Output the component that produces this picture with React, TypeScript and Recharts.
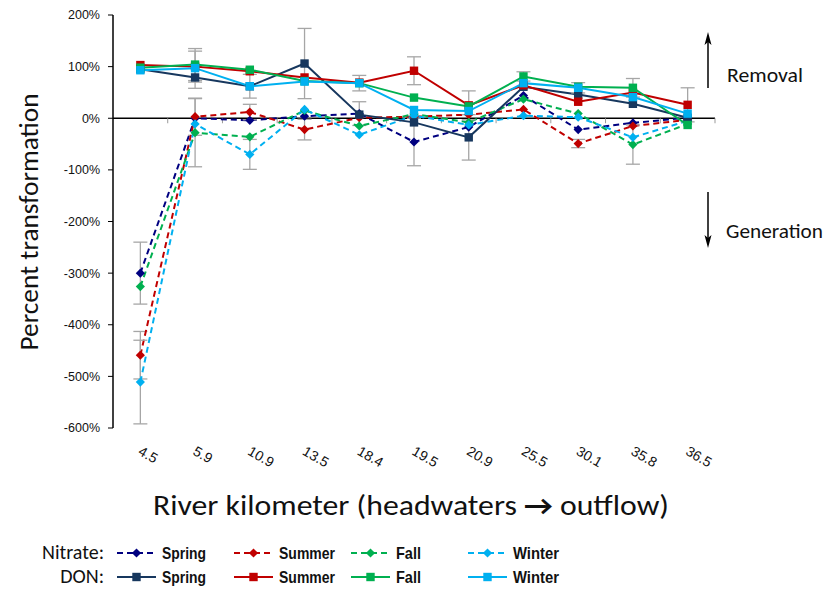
import React from 'react';
import { LineChart, Line, XAxis, YAxis, ReferenceLine, ErrorBar } from 'recharts';

const categories = ['4.5', '5.9', '10.9', '13.5', '18.4', '19.5', '20.9', '25.5', '30.1', '35.8', '36.5'];
const yTicks = [200, 100, 0, -100, -200, -300, -400, -500, -600];

const nitrateSpring = [-300, 0, -4, 4, 9, -46, -17, 44, -22, -9, 1];
const nitrateSummer = [-459, 3, 12, -22, 1, 3, 7, 17, -49, -15, -3];
const nitrateFall = [-326, -28, -36, 15, -15, 8, -8, 37, 9, -51, -11];
const nitrateWinter = [-511, -11, -70, 17, -32, 5, -13, 5, 2, -37, -5];

const donSpring = [95, 79, 62, 106, 7, -8, -37, 61, 46, 28, 1];
const donSummer = [103, 100, 91, 79, 69, 92, 25, 64, 32, 50, 26];
const donFall = [98, 104, 94, 72, 68, 40, 23, 81, 61, 59, -13];
const donWinter = [93, 97, 62, 71, 68, 16, 14, 68, 59, 41, 9];

const nitrateSpringErr = [60, null, null, null, 23, 46, null, null, null, null, null];
const nitrateSummerErr = [46, 36, 15, 20, null, null, null, null, 8, null, null];
const nitrateFallErr = [null, 66, null, null, null, null, null, null, null, 38, null];
const nitrateWinterErr = [81, null, 29, null, null, null, null, null, null, null, null];
const donSpringErr = [null, 21, 23, 68, null, null, 44, null, null, null, null];
const donSummerErr = [null, 30, null, null, null, 27, 28, null, null, null, 33];
const donFallErr = [null, 31, null, null, null, null, null, 9, null, 18, null];
const donWinterErr = [null, null, null, null, 15, null, null, null, 10, null, null];

const seasons = ['Spring', 'Summer', 'Fall', 'Winter'];
const seasonTextWidths = [44, 56, 25, 46];

const NAVY = '#000080';
const DARKNAVY = '#17375E';
const RED = '#C00000';
const GREEN = '#00B050';
const LBLUE = '#00B0F0';
const ERRC = '#a6a6a6';

const data = categories.map((km, i) => ({
  idx: i,
  km,
  nSpring: nitrateSpring[i], nSpringErr: nitrateSpringErr[i],
  nSummer: nitrateSummer[i], nSummerErr: nitrateSummerErr[i],
  nFall: nitrateFall[i], nFallErr: nitrateFallErr[i],
  nWinter: nitrateWinter[i], nWinterErr: nitrateWinterErr[i],
  dSpring: donSpring[i], dSpringErr: donSpringErr[i],
  dSummer: donSummer[i], dSummerErr: donSummerErr[i],
  dFall: donFall[i], dFallErr: donFallErr[i],
  dWinter: donWinter[i], dWinterErr: donWinterErr[i],
}));

type Series = { key: string; color: string; dashed: boolean; shape: 'diamond' | 'square' };

const nitrateSeries: Series[] = [
  { key: 'nSpring', color: NAVY, dashed: true, shape: 'diamond' },
  { key: 'nSummer', color: RED, dashed: true, shape: 'diamond' },
  { key: 'nFall', color: GREEN, dashed: true, shape: 'diamond' },
  { key: 'nWinter', color: LBLUE, dashed: true, shape: 'diamond' },
];
const donSeries: Series[] = [
  { key: 'dSpring', color: DARKNAVY, dashed: false, shape: 'square' },
  { key: 'dSummer', color: RED, dashed: false, shape: 'square' },
  { key: 'dFall', color: GREEN, dashed: false, shape: 'square' },
  { key: 'dWinter', color: LBLUE, dashed: false, shape: 'square' },
];

const Marker = ({ cx, cy, color, shape }: { cx: number; cy: number; color: string; shape: string }) => {
  if (shape === 'diamond') {
    const r = 4.6;
    return <path d={`M${cx},${cy - r}L${cx + r},${cy}L${cx},${cy + r}L${cx - r},${cy}Z`} fill={color} />;
  }
  return <rect x={cx - 4.2} y={cy - 4.2} width={8.4} height={8.4} fill={color} />;
};

const makeDot = (color: string, shape: string) => (props: any) => {
  const { cx, cy, index } = props;
  if (cx == null || cy == null) return <g key={`d${index}`} />;
  return (
    <g key={`d${index}`}>
      <Marker cx={cx} cy={cy} color={color} shape={shape} />
    </g>
  );
};

const XTick = (props: any) => {
  const { x, y, payload } = props;
  const label = categories[payload.value];
  const tx = x - 3;
  const ty = y + 26;
  return (
    <text
      x={tx}
      y={ty}
      transform={`rotate(30 ${tx} ${ty})`}
      textAnchor="start"
      fontFamily="'Liberation Sans', Arial, sans-serif"
      fontSize={14}
      fill="#111"
    >
      {label}
    </text>
  );
};

const boundaries = categories.map((_, i) => i + 0.5);

const TITLE_FONT = "Carlito, Calibri, Lato, 'Open Sans', sans-serif";
const LEGEND_FONT = "'Liberation Sans Narrow', 'Arial Narrow', 'Liberation Sans', Arial, sans-serif";

const renderLine = (s: Series) => (
  <Line
    key={s.key}
    type="linear"
    dataKey={s.key}
    stroke={s.color}
    strokeWidth={2}
    strokeDasharray={s.dashed ? '6 4' : undefined}
    dot={makeDot(s.color, s.shape)}
    activeDot={false}
    isAnimationActive={false}
  >
    <ErrorBar dataKey={`${s.key}Err`} width={7} stroke={ERRC} strokeWidth={1.3} direction="y" />
  </Line>
);

const LegendRow = ({ y, label, series }: { y: number; label: string; series: Series[] }) => (
  <g>
    <text x={104} y={y + 6} textAnchor="end" fontFamily={TITLE_FONT} fontSize={20} fill="#111">
      {label}
    </text>
    {series.map((s, i) => {
      const x0 = 117 + i * 117;
      return (
        <g key={s.key}>
          <line
            x1={x0}
            x2={x0 + 39}
            y1={y}
            y2={y}
            stroke={s.color}
            strokeWidth={2}
            strokeDasharray={s.dashed ? '6 4' : undefined}
          />
          <Marker cx={x0 + 19.5} cy={y} color={s.color} shape={s.shape} />
          <text
            x={x0 + 45}
            y={y + 6}
            fontFamily={LEGEND_FONT}
            fontWeight="bold"
            fontSize={16.5}
            fill="#111"
            textLength={seasonTextWidths[i]}
            lengthAdjust="spacingAndGlyphs"
          >
            {seasons[i]}
          </text>
        </g>
      );
    })}
  </g>
);

export default function App() {
  return (
    <div style={{ position: 'absolute', left: 0, top: 0, width: 826, height: 590, background: '#fff' }}>
      <LineChart
        width={826}
        height={590}
        data={data}
        margin={{ top: 15, right: 111, bottom: 122, left: 53 }}
      >
        <XAxis
          dataKey="idx"
          type="number"
          domain={[-0.5, 10.5]}
          allowDataOverflow
          ticks={categories.map((_, i) => i)}
          interval={0}
          axisLine={false}
          tickLine={false}
          tickSize={0}
          tickMargin={0}
          height={40}
          tick={XTick}
        />
        <YAxis
          type="number"
          domain={[-600, 200]}
          allowDataOverflow
          ticks={yTicks}
          interval={0}
          width={60}
          tickSize={5}
          tickMargin={8}
          tickFormatter={(v: number) => `${v}%`}
          axisLine={{ stroke: '#000', strokeWidth: 1.5 }}
          tickLine={{ stroke: '#000', strokeWidth: 1 }}
          tick={{ fontFamily: "'Liberation Sans', Arial, sans-serif", fontSize: 12.5, fill: '#111' }}
        />
        <ReferenceLine y={0} stroke="#000" strokeWidth={1.5} />
        {boundaries.map((b) => (
          <ReferenceLine
            key={`b${b}`}
            segment={[{ x: b, y: 0 }, { x: b, y: -9.7 }]}
            stroke="#999"
            strokeWidth={1}
          />
        ))}
        {nitrateSeries.map(renderLine)}
        {donSeries.map(renderLine)}
      </LineChart>
      <svg
        width={826}
        height={590}
        style={{ position: 'absolute', left: 0, top: 0, pointerEvents: 'none' }}
      >
        <text
          x={0}
          y={0}
          transform="translate(38 222) rotate(-90)"
          textAnchor="middle"
          fontFamily={TITLE_FONT}
          fontSize={27}
          fill="#111"
          textLength={257}
          lengthAdjust="spacingAndGlyphs"
        >
          Percent transformation
        </text>
        <text
          x={411}
          y={515}
          textAnchor="middle"
          fontFamily={TITLE_FONT}
          fontSize={28}
          fill="#111"
          textLength={516}
          lengthAdjust="spacingAndGlyphs"
        >
          River kilometer (headwaters <tspan fontWeight="bold">→</tspan> outflow)
        </text>
        <text x={727} y={82} fontFamily={TITLE_FONT} fontSize={21} fill="#111" textLength={76} lengthAdjust="spacingAndGlyphs">
          Removal
        </text>
        <text x={726} y={238} fontFamily={TITLE_FONT} fontSize={21} fill="#111" textLength={97} lengthAdjust="spacingAndGlyphs">
          Generation
        </text>
        <line x1={708} x2={708} y1={88} y2={40} stroke="#000" strokeWidth={1.5} />
        <path d="M708,32 L711.5,45 L708,42 L704.5,45 Z" fill="#000" />
        <line x1={708} x2={708} y1={192} y2={240} stroke="#000" strokeWidth={1.5} />
        <path d="M708,248 L711.5,235 L708,238 L704.5,235 Z" fill="#000" />
        <LegendRow y={553} label="Nitrate:" series={nitrateSeries} />
        <LegendRow y={577} label="DON:" series={donSeries} />
      </svg>
    </div>
  );
}
